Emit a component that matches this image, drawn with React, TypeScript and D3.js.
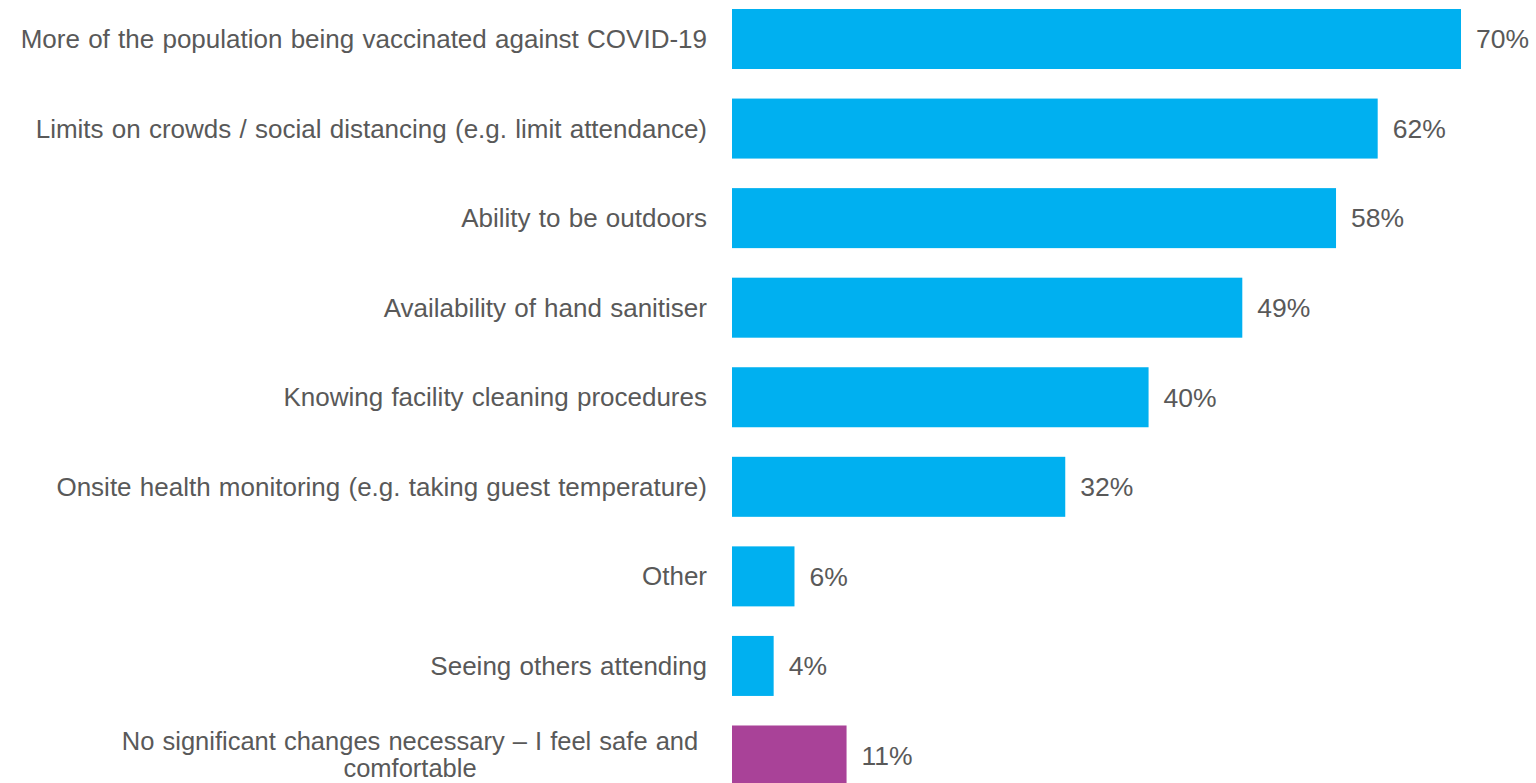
import React from "react";
import * as d3 from "d3";

const categories = [
  "More of the population being vaccinated against COVID-19",
  "Limits on crowds / social distancing (e.g. limit attendance)",
  "Ability to be outdoors",
  "Availability of hand sanitiser",
  "Knowing facility cleaning procedures",
  "Onsite health monitoring (e.g. taking guest temperature)",
  "Other",
  "Seeing others attending",
  "No significant changes necessary – I feel safe and|comfortable",
];
const values = [70, 62, 58, 49, 40, 32, 6, 4, 11];
const colors = ["#00B0F0", "#00B0F0", "#00B0F0", "#00B0F0", "#00B0F0", "#00B0F0", "#00B0F0", "#00B0F0", "#A94298"];

const W = 1536;
const H = 783;
const x0 = 732;

export default function App() {
  const x = d3.scaleLinear().domain([0, 70]).range([x0, 1461]);
  const y = d3
    .scaleBand<string>()
    .domain(categories)
    .range([9, 785.5])
    .paddingInner(0.33)
    .paddingOuter(0);
  const font = "Liberation Sans, Arial, sans-serif";
  return (
    <svg
      width={W}
      height={H}
      style={{ position: "absolute", left: 0, top: 0, background: "#fff" }}
    >
      {categories.map((c, i) => {
        const yy = y(c)!;
        const bw = y.bandwidth();
        const cy = yy + bw / 2;
        const lines = c.split("|");
        const lh = 27;
        const multi = lines.length > 1;
        const startY = cy - ((lines.length - 1) * lh) / 2 - (multi ? 1 : 0);
        return (
          <g key={c}>
            <rect x={x(0)} y={yy} width={x(values[i]) - x(0)} height={bw} fill={colors[i]} />
            <text
              x={x(values[i]) + 15}
              y={cy}
              dy="0.35em"
              fontFamily={font}
              fontSize={26.5}
              fill="#595959"
            >
              {values[i]}%
            </text>
            {lines.map((l, j) => (
              <text
                key={j}
                x={multi ? 410 : 707}
                y={startY + j * lh}
                dy="0.35em"
                textAnchor={multi ? "middle" : "end"}
                fontFamily={font}
                fontSize={multi ? 25.5 : 26}
                fill="#595959"
                wordSpacing={1}
              >
                {l}
              </text>
            ))}
          </g>
        );
      })}
    </svg>
  );
}
